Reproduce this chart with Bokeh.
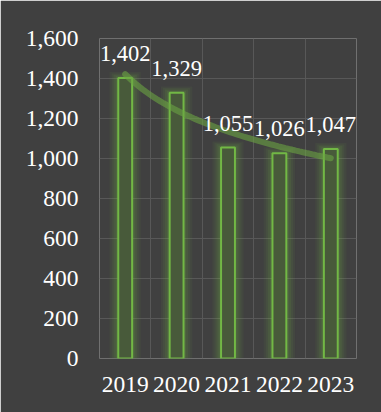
import numpy as np
from bokeh.plotting import figure
from bokeh.models import (Range1d, FixedTicker, NumeralTickFormatter, Grid,
                          BoxAnnotation, ColumnDataSource)
from bokeh.core.properties import value
from bokeh.embed import file_html
from bokeh.resources import INLINE

years = ["2019", "2020", "2021", "2022", "2023"]
counts = [1402, 1329, 1055, 1026, 1047]
y_ticks = [0, 200, 400, 600, 800, 1000, 1200, 1400, 1600]

xs = list(range(1, len(years) + 1))
labels = [f"{v:,}" for v in counts]

# logarithmic trend line fitted to the data
b, a = np.polyfit(np.log(xs), counts, 1)
tx = np.linspace(1, len(years), 60)
ty = a + b * np.log(tx)

BG = "#404040"
GREEN = "#72b845"
FONT = "Liberation Serif"

p = figure(width=381, height=412, output_backend="svg", toolbar_location=None,
           x_range=Range1d(0.5, 5.5), y_range=Range1d(0, 1600),
           min_border_left=99, min_border_right=25, min_border_top=38,
           min_border_bottom=54)
p.background_fill_color = BG
p.border_fill_color = BG
p.outline_line_color = None

src = ColumnDataSource(dict(x=xs, top=counts, label=labels))

# glow around bars
for extra, alpha in [(0.34, 0.06), (0.26, 0.08), (0.18, 0.10), (0.10, 0.13)]:
    gsrc = ColumnDataSource(dict(x=xs, top=[c + extra * 90 for c in counts]))
    p.vbar(x="x", top="top", bottom=0, width=0.27 + extra, source=gsrc,
           fill_color=GREEN, fill_alpha=alpha, line_color=None)

p.vbar(x="x", top="top", bottom=0, width=0.27, source=src,
       fill_color="#485a3a", line_color=GREEN, line_width=2)

p.line(tx, ty, line_color="#6aa343", line_alpha=0.6, line_width=6, line_cap="round")

p.text(x="x", y="top", text="label", source=src, text_align="center",
       text_baseline="bottom", y_offset=-17, text_color="white",
       text_font=value(FONT), text_font_size="22.5px")

# axes
p.yaxis.ticker = FixedTicker(ticks=y_ticks)
p.yaxis.formatter = NumeralTickFormatter(format="0,0")
p.xaxis.ticker = FixedTicker(ticks=xs)
p.xaxis.major_label_overrides = {x: y for x, y in zip(xs, years)}
for ax in (p.xaxis[0], p.yaxis[0]):
    ax.axis_line_color = None
    ax.major_tick_line_color = None
    ax.minor_tick_line_color = None
    ax.major_label_text_font = FONT
    ax.major_label_text_font_size = "23.5px"
    ax.major_label_text_color = "white"
p.yaxis.major_label_standoff = 15
p.xaxis.major_label_standoff = 12

# grids
p.ygrid.grid_line_color = "#585858"
p.ygrid.grid_line_width = 1
p.xgrid.visible = False
vgrid = Grid(dimension=0, ticker=FixedTicker(ticks=[0.5, 1.5, 2.5, 3.5, 4.5, 5.5]),
             grid_line_color="#585858", grid_line_width=1)
p.add_layout(vgrid)

# page edge strips
def strip(l, r, t, bt, color):
    p.add_layout(BoxAnnotation(left=l, right=r, top=t, bottom=bt,
                               left_units="canvas", right_units="canvas",
                               top_units="canvas", bottom_units="canvas",
                               fill_color=color, fill_alpha=1, line_color=None,
                               level="overlay"))

strip(0, 381, 0, 9, "white")
strip(0, 7, 0, 412, "white")
strip(6, 381, 8, 9, "#c8c8c8")
strip(6, 8, 8, 412, "#c8c8c8")
strip(0, 381, 0, 3, "black")

open("out.html", "w").write(file_html(p, INLINE))
